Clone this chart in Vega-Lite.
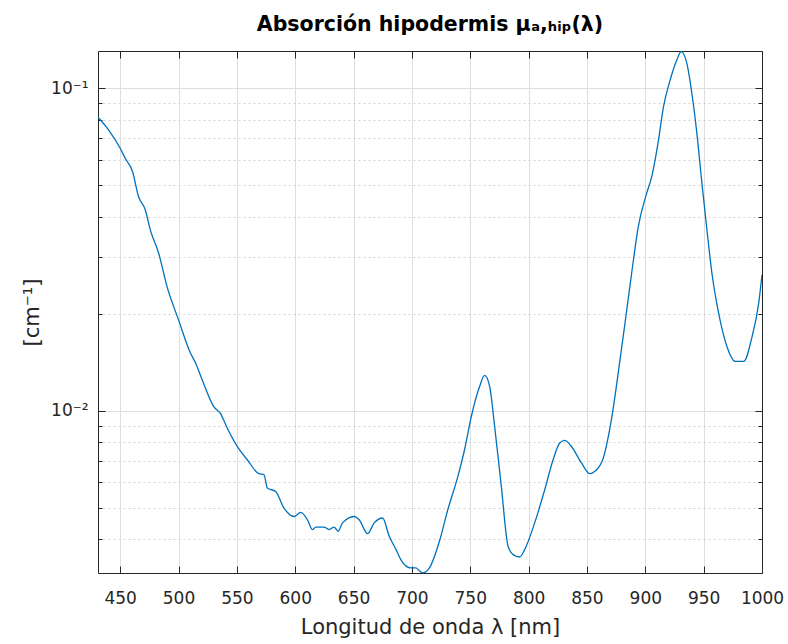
{
  "$schema": "https://vega.github.io/schema/vega-lite/v6.json",
  "width": 664,
  "height": 522,
  "autosize": {"type": "none"},
  "padding": {"left": 98, "top": 51, "right": 26, "bottom": 71},
  "background": "white",
  "title": {"text": "Absorción hipodermis μₐ,ₕᵢₚ(λ)", "font": "DejaVu Sans", "fontSize": 20.5, "fontWeight": "bold", "color": "#000000", "offset": 15, "anchor": "middle"},
  "config": {
    "view": {"stroke": null},
    "axis": {"domainColor": "#262626", "tickColor": "#262626", "labelColor": "#262626", "titleColor": "#262626", "labelFont": "DejaVu Sans", "titleFont": "DejaVu Sans", "titleFontWeight": "normal", "gridColor": "#dedede", "domainWidth": 1, "tickWidth": 1, "labelOverlap": false, "labelFlush": false}
  },
  "data": {"values": [
    {"wl": 431, "mu": 0.0813}, {"wl": 440, "mu": 0.0743}, {"wl": 450, "mu": 0.0652}, {"wl": 454.3, "mu": 0.0607},
    {"wl": 460.6, "mu": 0.0552}, {"wl": 465.7, "mu": 0.0462}, {"wl": 471.5, "mu": 0.042}, {"wl": 475.8, "mu": 0.0364},
    {"wl": 483, "mu": 0.0308}, {"wl": 490.1, "mu": 0.0243}, {"wl": 500.1, "mu": 0.0191}, {"wl": 510.2, "mu": 0.0151},
    {"wl": 514.5, "mu": 0.0141}, {"wl": 520.2, "mu": 0.0125}, {"wl": 530.2, "mu": 0.0103}, {"wl": 536, "mu": 0.0098},
    {"wl": 541.7, "mu": 0.00884}, {"wl": 550.3, "mu": 0.00775}, {"wl": 558.9, "mu": 0.00705}, {"wl": 568.9, "mu": 0.00638},
    {"wl": 573.2, "mu": 0.00634}, {"wl": 576.1, "mu": 0.00576}, {"wl": 583.2, "mu": 0.00562}, {"wl": 590.4, "mu": 0.00499},
    {"wl": 599, "mu": 0.0047}, {"wl": 604.7, "mu": 0.00484}, {"wl": 610.5, "mu": 0.00459}, {"wl": 614.8, "mu": 0.00428},
    {"wl": 617.6, "mu": 0.00436}, {"wl": 624.7, "mu": 0.00436}, {"wl": 629, "mu": 0.00428}, {"wl": 633.3, "mu": 0.00436},
    {"wl": 636.8, "mu": 0.00423}, {"wl": 640.5, "mu": 0.00449}, {"wl": 650.5, "mu": 0.0047}, {"wl": 654.8, "mu": 0.00459},
    {"wl": 662, "mu": 0.00416}, {"wl": 667.7, "mu": 0.00449}, {"wl": 674.9, "mu": 0.00465}, {"wl": 680.6, "mu": 0.00408},
    {"wl": 686.4, "mu": 0.00371}, {"wl": 690.6, "mu": 0.00345}, {"wl": 699.2, "mu": 0.003256}, {"wl": 703.5, "mu": 0.003256},
    {"wl": 706, "mu": 0.0032}, {"wl": 709.3, "mu": 0.00314}, {"wl": 715, "mu": 0.003256}, {"wl": 723.6, "mu": 0.00394},
    {"wl": 730.8, "mu": 0.00494}, {"wl": 739.4, "mu": 0.00626}, {"wl": 745.1, "mu": 0.00757}, {"wl": 750.9, "mu": 0.0096},
    {"wl": 758, "mu": 0.01189}, {"wl": 762.3, "mu": 0.01287}, {"wl": 766.6, "mu": 0.0119}, {"wl": 770.9, "mu": 0.00894},
    {"wl": 776.6, "mu": 0.00583}, {"wl": 782.4, "mu": 0.0038}, {"wl": 786.7, "mu": 0.00358}, {"wl": 792.3, "mu": 0.00352},
    {"wl": 796.6, "mu": 0.00371}, {"wl": 805.2, "mu": 0.00449}, {"wl": 813.8, "mu": 0.00569}, {"wl": 821, "mu": 0.00705},
    {"wl": 826.7, "mu": 0.00794}, {"wl": 831, "mu": 0.00809}, {"wl": 836.7, "mu": 0.00775}, {"wl": 845.3, "mu": 0.00689},
    {"wl": 852.5, "mu": 0.00638}, {"wl": 856.8, "mu": 0.00649}, {"wl": 864, "mu": 0.00714}, {"wl": 871.2, "mu": 0.0095},
    {"wl": 876.8, "mu": 0.0131}, {"wl": 882.6, "mu": 0.0187}, {"wl": 888.3, "mu": 0.0267}, {"wl": 894, "mu": 0.03725},
    {"wl": 901.2, "mu": 0.0473}, {"wl": 905.5, "mu": 0.0532}, {"wl": 911.3, "mu": 0.0691}, {"wl": 915.6, "mu": 0.0877},
    {"wl": 921.3, "mu": 0.1061}, {"wl": 927, "mu": 0.1224}, {"wl": 930.7, "mu": 0.1299}, {"wl": 935.6, "mu": 0.1195},
    {"wl": 939.9, "mu": 0.0965}, {"wl": 944.2, "mu": 0.0725}, {"wl": 948.5, "mu": 0.0508}, {"wl": 952.8, "mu": 0.0364},
    {"wl": 957.1, "mu": 0.0267}, {"wl": 962.8, "mu": 0.0201}, {"wl": 970, "mu": 0.0158}, {"wl": 977.2, "mu": 0.01422},
    {"wl": 984.3, "mu": 0.01422}, {"wl": 991.5, "mu": 0.01699}, {"wl": 997.2, "mu": 0.0216}, {"wl": 1000, "mu": 0.0264}
  ]},
  "layer": [
    {
      "mark": {"type": "line", "opacity": 0},
      "encoding": {
        "x": {"field": "wl", "type": "quantitative", "scale": {"domain": [431, 1000], "nice": false, "zero": false},
          "axis": {"orient": "top", "values": [450, 500, 550, 600, 650, 700, 750, 800, 850, 900, 950, 1000], "grid": false, "tickSize": -7, "labels": false, "title": null}},
        "y": {"field": "mu", "type": "quantitative", "scale": {"type": "log", "domain": [0.00314, 0.1305], "nice": false},
          "axis": {"orient": "left", "values": [0.004, 0.005, 0.006, 0.007, 0.008, 0.009, 0.02, 0.03, 0.04, 0.05, 0.06, 0.07, 0.08, 0.09], "grid": true, "gridDash": [2, 3], "gridColor": "#d2d2d2", "tickSize": -4, "labels": false, "title": null, "domain": false}}
      }
    },
    {
      "mark": {"type": "line", "opacity": 0},
      "encoding": {
        "x": {"field": "wl", "type": "quantitative", "scale": {"domain": [431, 1000], "nice": false, "zero": false}, "axis": null},
        "y": {"field": "mu", "type": "quantitative", "scale": {"type": "log", "domain": [0.00314, 0.1305], "nice": false},
          "axis": {"orient": "right", "values": [0.01, 0.1], "grid": false, "tickSize": -7, "labels": false, "title": null}}
      }
    },
    {
      "mark": {"type": "line", "opacity": 0},
      "encoding": {
        "x": {"field": "wl", "type": "quantitative", "scale": {"domain": [431, 1000], "nice": false, "zero": false}, "axis": null},
        "y": {"field": "mu", "type": "quantitative", "scale": {"type": "log", "domain": [0.00314, 0.1305], "nice": false},
          "axis": {"orient": "right", "values": [0.004, 0.005, 0.006, 0.007, 0.008, 0.009, 0.02, 0.03, 0.04, 0.05, 0.06, 0.07, 0.08, 0.09], "grid": false, "tickSize": -4, "labels": false, "title": null, "domain": false}}
      }
    },
    {
      "mark": {"type": "line", "color": "#0072BD", "strokeWidth": 1.3, "clip": true, "interpolate": "monotone"},
      "encoding": {
        "x": {"field": "wl", "type": "quantitative", "scale": {"domain": [431, 1000], "nice": false, "zero": false},
          "axis": {"orient": "bottom", "values": [450, 500, 550, 600, 650, 700, 750, 800, 850, 900, 950, 1000], "format": "d", "grid": true, "tickSize": -7, "labelFontSize": 17, "labelPadding": 24, "title": "Longitud de onda λ [nm]", "titleFontSize": 21, "titlePadding": 10}},
        "y": {"field": "mu", "type": "quantitative", "scale": {"type": "log", "domain": [0.00314, 0.1305], "nice": false},
          "axis": {"orient": "left", "values": [0.01, 0.1], "grid": true, "tickSize": -7, "labelExpr": "datum.value < 0.05 ? '10⁻²' : '10⁻¹'", "labelFontSize": 17, "labelPadding": 17, "title": "[cm⁻¹]", "titleFontSize": 21, "titlePadding": 8}}
      }
    }
  ],
  "resolve": {"axis": {"x": "independent", "y": "independent"}}
}
